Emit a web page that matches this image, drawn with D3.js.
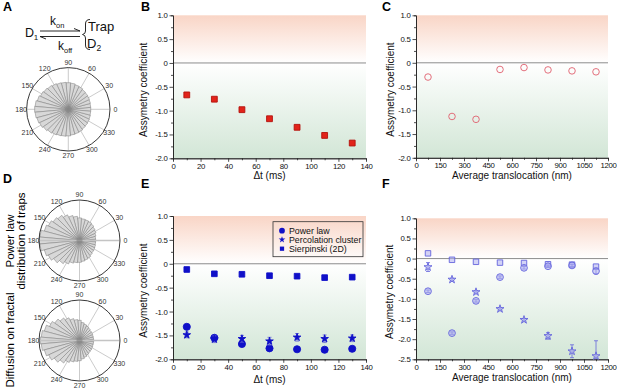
<!DOCTYPE html>
<html>
<head>
<meta charset="utf-8">
<script src="https://cdn.jsdelivr.net/npm/d3@7"></script>
<style>
  body { margin: 0; background: #fff; }
  svg { display: block; font-family: "Liberation Sans", Arial, sans-serif; }
  .tick text { font-size: 7.8px; letter-spacing: -0.3px; fill: #111; }
  .axis path, .axis line { stroke: #222; stroke-width: 0.8; }
  .title { font-size: 10px; fill: #111; }
  .panel { font-size: 12.5px; font-weight: bold; }
</style>
</head>
<body>
<svg id="fig" width="617" height="389"></svg>
<script>
// panel B
const bTimes = [10, 30, 50, 70, 90, 110, 130];
const bAsym = [-0.67, -0.76, -0.98, -1.17, -1.35, -1.52, -1.68];

// panel C
const cTrans = [75, 225, 375, 525, 675, 825, 975, 1125];
const cAsym = [-0.30, -1.13, -1.19, -0.14, -0.10, -0.15, -0.17, -0.19];

// panel E
const eTimes = [10, 30, 50, 70, 90, 110, 130];
const ePowerLaw = [-1.32, -1.55, -1.68, -1.77, -1.79, -1.80, -1.78];
const ePowerLawErr = [0.03, 0.04, 0.03, 0.03, 0.03, 0.03, 0.03];
const ePercolation = [-1.49, -1.58, -1.57, -1.62, -1.54, -1.57, -1.56];
const ePercolationErr = [0.06, 0.07, 0.07, 0.08, 0.08, 0.08, 0.07];
const eSierpinski = [-0.12, -0.21, -0.22, -0.25, -0.26, -0.29, -0.28];
const legendNames = ["Power law", "Percolation cluster", "Sierpinski (2D)"];

// panel F
const fTrans = [75, 225, 375, 525, 675, 825, 975, 1125];
const fPowerLaw = [-0.81, -1.85, -1.05, -0.46, -0.23, -0.19, -0.17, -0.31];
const fPowerLawErr = [0.03, 0.03, 0.03, 0.03, 0.03, 0.03, 0.03, 0.07];
const fPercolation = [-0.21, -0.52, -0.83, -1.25, -1.52, -1.92, -2.30, -2.42];
const fPercolationErr = [0.11, 0.03, 0.03, 0.03, 0.03, 0.08, 0.16, 0.38];
const fSierpinski = [0.13, -0.03, -0.08, -0.10, -0.11, -0.14, -0.15, -0.20];

// rose histograms (bin centres in degrees, relative counts)
const roseAngles = [0, 10, 20, 30, 40, 50, 60, 70, 80, 90, 100, 110, 120, 130, 140, 150, 160, 170,
                    180, 190, 200, 210, 220, 230, 240, 250, 260, 270, 280, 290, 300, 310, 320, 330, 340, 350];
const roseA = [0.54, 0.54, 0.55, 0.56, 0.57, 0.58, 0.60, 0.61, 0.63, 0.64, 0.65, 0.66, 0.68, 0.70, 0.72, 0.74, 0.77, 0.80,
               0.81, 0.80, 0.78, 0.76, 0.73, 0.70, 0.68, 0.66, 0.65, 0.64, 0.62, 0.61, 0.60, 0.58, 0.57, 0.56, 0.55, 0.54];
const rosePower = [0.40, 0.40, 0.42, 0.45, 0.47, 0.50, 0.52, 0.53, 0.54, 0.56, 0.60, 0.64, 0.70, 0.76, 0.80, 0.85, 0.90, 0.98,
                   1.00, 0.98, 0.90, 0.85, 0.78, 0.70, 0.64, 0.58, 0.55, 0.54, 0.52, 0.50, 0.48, 0.45, 0.43, 0.42, 0.41, 0.40];
const roseFractal = [0.35, 0.35, 0.35, 0.36, 0.36, 0.38, 0.40, 0.42, 0.45, 0.50, 0.52, 0.56, 0.62, 0.68, 0.75, 0.82, 0.90, 0.95,
                     0.97, 0.95, 0.90, 0.84, 0.76, 0.68, 0.60, 0.55, 0.52, 0.50, 0.46, 0.43, 0.40, 0.38, 0.37, 0.36, 0.35, 0.35];
const polarLabels = [0, 30, 60, 90, 120, 150, 180, 210, 240, 270, 300, 330];

const svg = d3.select("#fig");

function fmt(d) {
  if (d === 0) return "0";
  return (d < 0 ? "-" : "") + Math.abs(d).toFixed(1);
}

function drawPanel(o) {
  const g = svg.append("g");
  const x = d3.scaleLinear().domain(o.xDomain).range([o.left, o.right]);
  const y = d3.scaleLinear().domain(o.yDomain).range([o.bottom, o.top]);
  const id = "grad" + o.key;

  //background gradient: pink above zero, green below
  const z = (y(0) - o.top) / (o.bottom - o.top);
  const grad = svg.append("defs").append("linearGradient").attr("id", id)
    .attr("x1", 0).attr("x2", 0).attr("y1", 0).attr("y2", 1);
  grad.append("stop").attr("offset", 0).attr("stop-color", "#f9d5c6");
  grad.append("stop").attr("offset", z).attr("stop-color", "#ffffff");
  grad.append("stop").attr("offset", 1).attr("stop-color", "#d2e6d6");
  g.append("rect").attr("x", o.left).attr("y", o.top)
    .attr("width", o.right - o.left).attr("height", o.bottom - o.top)
    .attr("fill", `url(#${id})`);

  g.append("line").attr("x1", o.left).attr("x2", o.right)
    .attr("y1", y(0)).attr("y2", y(0)).attr("stroke", "#8c8c8c").attr("stroke-width", 1);

  //axes
  g.append("g").attr("class", "axis").attr("transform", `translate(0,${o.bottom})`)
    .call(d3.axisBottom(x).tickValues(o.xMinor).tickSize(2).tickFormat(""));
  g.append("g").attr("class", "axis").attr("transform", `translate(0,${o.bottom})`)
    .call(d3.axisBottom(x).tickValues(o.xTicks).tickSize(3.5).tickSizeOuter(0).tickPadding(1.5)
      .tickFormat(d3.format("d")));
  g.append("g").attr("class", "axis").attr("transform", `translate(${o.left},0)`)
    .call(d3.axisLeft(y).tickValues(o.yMinor).tickSize(2).tickFormat(""));
  g.append("g").attr("class", "axis").attr("transform", `translate(${o.left},0)`)
    .call(d3.axisLeft(y).tickValues(o.yTicks).tickSize(3.5).tickSizeOuter(0).tickPadding(2).tickFormat(fmt));
  g.selectAll(".axis .domain").attr("stroke", "#222");

  g.append("text").attr("class", "title").attr("text-anchor", "middle")
    .attr("x", (o.left + o.right) / 2).attr("y", o.bottom + o.xTitleDy).text(o.xTitle);
  g.append("text").attr("class", "title").attr("text-anchor", "middle")
    .attr("transform", `translate(${o.yTitleX},${(o.top + o.bottom) / 2 + 3}) rotate(-90)`)
    .text("Assymetry coefficient");

  g.append("text").attr("class", "panel").attr("x", o.labelX).attr("y", o.labelY).text(o.label);
  return { g, x, y };
}

function drawSeries(p, xs, ys, errs, symbol, size, fill, stroke, errColor) {
  const clipTop = p.y.range()[1], clipBottom = p.y.range()[0];
  if (errs) {
    const eg = p.g.append("g").attr("stroke", errColor).attr("stroke-width", 0.8);
    xs.forEach((xv, i) => {
      const y1 = Math.max(clipTop, p.y(ys[i] + errs[i]));
      const y2 = Math.min(clipBottom, p.y(ys[i] - errs[i]));
      const cx = p.x(xv);
      eg.append("line").attr("x1", cx).attr("x2", cx).attr("y1", y1).attr("y2", y2);
      eg.append("line").attr("x1", cx - 2).attr("x2", cx + 2).attr("y1", y1).attr("y2", y1);
      if (y2 < clipBottom) eg.append("line").attr("x1", cx - 2).attr("x2", cx + 2).attr("y1", y2).attr("y2", y2);
    });
  }
  p.g.append("g").selectAll("path").data(xs).join("path")
    .attr("d", d3.symbol(symbol, size))
    .attr("transform", (d, i) => `translate(${p.x(d)},${p.y(ys[i])})`)
    .attr("fill", fill).attr("stroke", stroke).attr("stroke-width", 0.9);
}

//B
const pB = drawPanel({
  key: "B", left: 173, right: 366, top: 15.3, bottom: 158.3,
  xDomain: [0, 140], yDomain: [-2, 1],
  xTicks: [0, 20, 40, 60, 80, 100, 120, 140], xMinor: [10, 30, 50, 70, 90, 110, 130],
  yTicks: [1, 0.5, 0, -0.5, -1, -1.5, -2], yMinor: [0.75, 0.25, -0.25, -0.75, -1.25, -1.75],
  xTitle: "Δt (ms)", xTitleDy: 20.5, yTitleX: 147, label: "B", labelX: 141, labelY: 11
});
drawSeries(pB, bTimes, bAsym, null, d3.symbolSquare, 34, "#e2231a", "#b3120c");

//C
const pC = drawPanel({
  key: "C", left: 416, right: 608, top: 15.3, bottom: 157.8,
  xDomain: [0, 1200], yDomain: [-2, 1],
  xTicks: [0, 150, 300, 450, 600, 750, 900, 1050, 1200], xMinor: [75, 225, 375, 525, 675, 825, 975, 1125],
  yTicks: [1, 0.5, 0, -0.5, -1, -1.5, -2], yMinor: [0.75, 0.25, -0.25, -0.75, -1.25, -1.75],
  xTitle: "Average translocation (nm)", xTitleDy: 21.5, yTitleX: 394, label: "C", labelX: 382, labelY: 11
});
drawSeries(pC, cTrans, cAsym, null, d3.symbolCircle, 34, "none", "#e0606e");

//E
const pE = drawPanel({
  key: "E", left: 173, right: 366, top: 216, bottom: 359.3,
  xDomain: [0, 140], yDomain: [-2, 1],
  xTicks: [0, 20, 40, 60, 80, 100, 120, 140], xMinor: [10, 30, 50, 70, 90, 110, 130],
  yTicks: [1, 0.5, 0, -0.5, -1, -1.5, -2], yMinor: [0.75, 0.25, -0.25, -0.75, -1.25, -1.75],
  xTitle: "Δt (ms)", xTitleDy: 23.5, yTitleX: 147, label: "E", labelX: 141, labelY: 188
});
const blue = "#1010c8";
drawSeries(pE, eTimes, ePowerLaw, ePowerLawErr, d3.symbolCircle, 40, blue, blue, "#6a6ad8");
drawSeries(pE, eTimes, ePercolation, ePercolationErr, d3.symbolStar, 18, blue, blue, "#6a6ad8");
drawSeries(pE, eTimes, eSierpinski, null, d3.symbolSquare, 32, blue, blue);

//legend in E
const leg = pE.g.append("g");
leg.append("rect").attr("x", 273).attr("y", 221.7).attr("width", 90).attr("height", 35)
  .attr("fill", "none").attr("stroke", "#333").attr("stroke-width", 0.8);
const legSymbols = [[d3.symbolCircle, 26], [d3.symbolStar, 14], [d3.symbolSquare, 18]];
legendNames.forEach((name, i) => {
  const yy = 230.7 + i * 9;
  leg.append("path").attr("d", d3.symbol(legSymbols[i][0], legSymbols[i][1]))
    .attr("transform", `translate(282,${yy})`).attr("fill", blue);
  leg.append("text").attr("x", 289).attr("y", yy + 3.2).attr("font-size", 8.8).attr("fill", "#111").text(name);
});

//F
const pF = drawPanel({
  key: "F", left: 416, right: 608, top: 218.3, bottom: 359.3,
  xDomain: [0, 1200], yDomain: [-2.5, 1],
  xTicks: [0, 150, 300, 450, 600, 750, 900, 1050, 1200], xMinor: [75, 225, 375, 525, 675, 825, 975, 1125],
  yTicks: [1, 0.5, 0, -0.5, -1, -1.5, -2, -2.5], yMinor: [0.75, 0.25, -0.25, -0.75, -1.25, -1.75, -2.25],
  xTitle: "Average translocation (nm)", xTitleDy: 21.5, yTitleX: 393, label: "F", labelX: 382, labelY: 188
});
const light = "rgba(175,175,240,0.55)", lightStroke = "#6464dc";
drawSeries(pF, fTrans, fSierpinski, null, d3.symbolSquare, 30, light, lightStroke);
drawSeries(pF, fTrans, fPowerLaw, fPowerLawErr, d3.symbolCircle, 36, light, lightStroke, "#6464dc");
drawSeries(pF, fTrans, fPercolation, fPercolationErr, d3.symbolStar, 20, light, lightStroke, "#6464dc");

//rose plots
function drawRose(cx, cy, R, values, axisBar) {
  const g = svg.append("g").attr("transform", `translate(${cx},${cy})`);
  const r = d3.scaleLinear().domain([0, 1]).range([0, R]);
  const pt = (deg, v) => [r(v) * Math.cos(deg * Math.PI / 180), -r(v) * Math.sin(deg * Math.PI / 180)];

  g.append("g").selectAll("line").data(polarLabels).join("line")
    .attr("x1", 0).attr("y1", 0)
    .attr("x2", d => pt(d, 1)[0]).attr("y2", d => pt(d, 1)[1])
    .attr("stroke", "#b4b4b4").attr("stroke-width", 0.7);

  g.append("g").selectAll("path").data(roseAngles).join("path")
    .attr("d", (a, i) => {
      const p = d3.path();
      const a1 = pt(a - 5, values[i]), a2 = pt(a + 5, values[i]);
      p.moveTo(0, 0); p.lineTo(a1[0], a1[1]); p.lineTo(a2[0], a2[1]); p.closePath();
      return p.toString();
    })
    .attr("fill", "#d8d8d8").attr("stroke", "#7a7a7a").attr("stroke-width", 0.5);

  if (axisBar) {
    g.append("line").attr("x1", -R).attr("x2", R).attr("y1", 0).attr("y2", 0)
      .attr("stroke", "#c4c4c4").attr("stroke-width", 1.6);
  }
  g.append("circle").attr("r", 3).attr("fill", "#8a8a8a").attr("opacity", 0.7);

  g.append("circle").attr("r", R).attr("fill", "none").attr("stroke", "#222").attr("stroke-width", 0.9);

  g.append("g").selectAll("text").data(polarLabels).join("text")
    .attr("x", d => pt(d, (R + 5.5) / R)[0]).attr("y", d => pt(d, (R + 5) / R)[1] + 2.4)
    .attr("text-anchor", "middle").attr("font-size", 7).attr("fill", "#333")
    .text(d => d);
}

drawRose(68.3, 109.3, 41.7, roseA, false);
drawRose(79.5, 240.5, 40.5, rosePower, true);
drawRose(79.5, 340.5, 40.5, roseFractal, true);

//panel labels on the left
svg.append("text").attr("class", "panel").attr("x", 3).attr("y", 11).text("A");
svg.append("text").attr("class", "panel").attr("x", 3).attr("y", 183).text("D");

svg.append("text").attr("font-size", 11.5).attr("text-anchor", "middle")
  .attr("transform", "translate(14,241) rotate(-90)").text("Power law");
svg.append("text").attr("font-size", 11.5).attr("text-anchor", "middle")
  .attr("transform", "translate(25,241) rotate(-90)").text("distribution of traps");
svg.append("text").attr("font-size", 11.5).attr("text-anchor", "middle")
  .attr("transform", "translate(14,340) rotate(-90)").text("Diffusion on fractal");

//kinetic scheme
const ks = svg.append("g").attr("fill", "#111");
ks.append("text").attr("x", 25).attr("y", 37).attr("font-size", 12.5).text("D");
ks.append("text").attr("x", 33.8).attr("y", 40).attr("font-size", 8).text("1");
ks.append("text").attr("x", 50).attr("y", 25).attr("font-size", 12).text("k");
ks.append("text").attr("x", 56).attr("y", 27.5).attr("font-size", 7.5).text("on");
ks.append("text").attr("x", 58).attr("y", 50).attr("font-size", 12).text("k");
ks.append("text").attr("x", 64).attr("y", 52.5).attr("font-size", 7.5).text("off");
const arrows = svg.append("g").attr("stroke", "#111").attr("stroke-width", 0.9).attr("fill", "none");
arrows.append("path").attr("d", "M40,31 L80,31 L74,28.5");
arrows.append("path").attr("d", "M80,36.5 L40,36.5 L46,39");
arrows.append("path").attr("d", "M90,19.5 Q85.5,19.5 85.5,24 L85.5,31 Q85.5,34 82.5,34.5 Q85.5,35 85.5,38 L85.5,45 Q85.5,49.5 90,49.5");
ks.append("text").attr("x", 88).attr("y", 31).attr("font-size", 13).text("Trap");
ks.append("text").attr("x", 87).attr("y", 48).attr("font-size", 13).text("D");
ks.append("text").attr("x", 96.5).attr("y", 51).attr("font-size", 8.5).text("2");
</script>
</body>
</html>
